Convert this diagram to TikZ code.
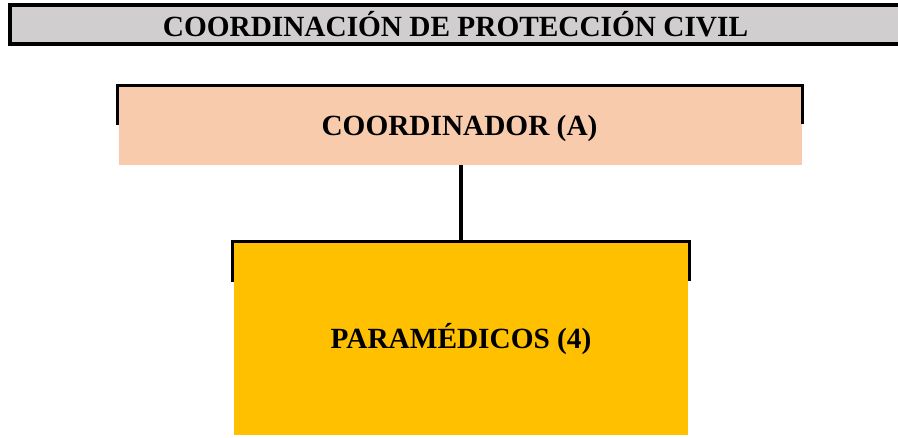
\documentclass[tikz,border=0pt]{standalone}
\usepackage{fontspec}
\setmainfont{Liberation Serif}
\definecolor{hdrgray}{HTML}{D0CECE}
\definecolor{peach}{HTML}{F8CBAD}
\definecolor{gold}{HTML}{FFC000}
\begin{document}
\begin{tikzpicture}[x=1pt,y=-1pt,
  lbl/.style={font=\fontsize{29.3}{34}\selectfont\bfseries, inner sep=0pt, anchor=base},
  brk/.style={line width=3pt}]
\useasboundingbox (0,0) rectangle (898,438);
% header
\draw[fill=hdrgray, line width=3.6pt] (9.8,5) rectangle (900,44.3);
\node[lbl] (hdr) at (455.5,36.5) {COORDINACIÓN DE PROTECCIÓN CIVIL};
% coordinator
\fill[peach] (119,87) rectangle (802,165);
\draw[brk] (117.5,125) -- (117.5,85.5) -- (802.8,85.5) -- (802.8,124);
\node[lbl] (coord) at (459.5,135.8) {COORDINADOR (A)};
\coordinate (cb) at (460.8,165);
% paramedics
\fill[gold] (234,243) rectangle (688,435);
\draw[brk] (232.5,282.5) -- (232.5,241.5) -- (689.2,241.5) -- (689.2,281);
\node[lbl] (para) at (461,348.8) {PARAMÉDICOS (4)};
\coordinate (pt) at (460.8,240);
\draw[line width=3.6pt] (cb) -- (pt);
\end{tikzpicture}
\end{document}
